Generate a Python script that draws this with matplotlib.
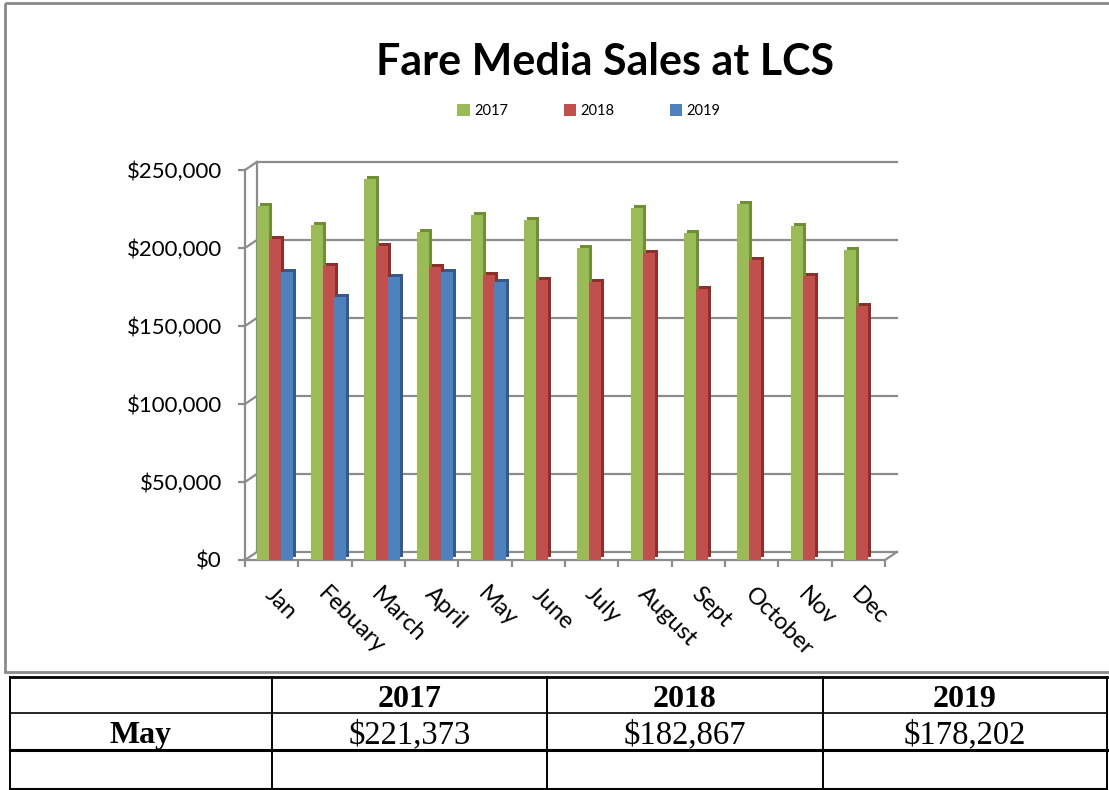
import matplotlib.pyplot as plt
import numpy as np
from matplotlib.transforms import ScaledTranslation
from matplotlib.patches import Rectangle

plt.rcParams['font.family'] = ['Lato', 'DejaVu Sans']

# data
months = ['Jan', 'Febuary', 'March', 'April', 'May', 'June', 'July',
          'August', 'Sept', 'October', 'Nov', 'Dec']
sales_2017 = [227000, 214700, 244300, 210000, 221373, 217700, 200200,
              225900, 209400, 228100, 213900, 198500]
sales_2018 = [205800, 188300, 201100, 188100, 182867, 179800, 178200,
              196900, 174000, 192500, 181900, 162700]
sales_2019 = [184700, 168500, 181300, 184900, 178202, np.nan, np.nan,
              np.nan, np.nan, np.nan, np.nan, np.nan]
years = ['2017', '2018', '2019']
table_row_label = 'May'
table_row_values = ['$221,373', '$182,867', '$178,202']

W, H = 1109, 790
fig = plt.figure(figsize=(W / 100, H / 100), dpi=100)

# page layer in pixel coords: chart frame + table
page = fig.add_axes([0, 0, 1, 1], zorder=0)
page.set_xlim(0, W)
page.set_ylim(H, 0)
page.axis('off')
page.add_patch(Rectangle((5, 3), W + 20, 669, fill=False, ec='#8a8a8a', lw=2))

col_edges = [10, 272, 547, 823, 1107]
row_edges = [677, 713, 750, 789]
row_lw = [2, 1.2, 2.2, 1.5]
for y, lw in zip(row_edges, row_lw):
    page.plot([col_edges[0], col_edges[-1]], [y, y], color='black', lw=lw)
for xe in col_edges:
    page.plot([xe, xe], [row_edges[0], row_edges[-1]], color='black', lw=1.4)

serif = 'Liberation Serif'
for j, yr in enumerate(years):
    cx = (col_edges[j + 1] + col_edges[j + 2]) / 2
    page.text(cx, 707, yr, ha='center', va='baseline', fontsize=23,
              fontweight='bold', family=serif)
    page.text(cx, 743, table_row_values[j], ha='center', va='baseline',
              fontsize=23.5, family=serif)
page.text((col_edges[0] + col_edges[1]) / 2, 743, table_row_label, ha='center',
          va='baseline', fontsize=23, fontweight='bold', family=serif)

# chart
ax = fig.add_axes([245 / W, (H - 560) / H, 640 / W, 390 / H], zorder=1)
ax.set_facecolor('none')

grid = '#8c8c8c'
x = np.arange(len(months))
w = 0.225
offsets = [-0.157, 0.068, 0.29]
fronts = ['#9bbb59', '#c0504d', '#4f81bd']
sides = ['#6f8f32', '#8e2f2c', '#345b8c']
shift = ScaledTranslation(3 / 100, 3 / 100, fig.dpi_scale_trans)

for i, vals in enumerate([sales_2017, sales_2018, sales_2019]):
    shadow = ax.bar(x + offsets[i], vals, w, color=sides[i], zorder=3 + 2 * i)
    for p in shadow:
        p.set_transform(ax.transData + shift)
    ax.bar(x + offsets[i], vals, w, color=fronts[i], zorder=4 + 2 * i, label=years[i])

# back wall / floor to fake the 3-D box
DX, DY = 0.225, 5200
yticks = np.arange(0, 250001, 50000)
for v in yticks:
    ax.plot([-0.5 + DX, 11.5 + DX], [v + DY, v + DY], color=grid, lw=1.6,
            zorder=1, clip_on=False)
    ax.plot([-0.5, -0.5 + DX], [v, v + DY], color=grid, lw=1.6, zorder=1,
            clip_on=False)
ax.plot([-0.5 + DX, -0.5 + DX], [DY, 250000 + DY], color=grid, lw=1.6,
        zorder=1, clip_on=False)
ax.plot([11.5, 11.5 + DX], [0, DY], color=grid, lw=1.6, zorder=1, clip_on=False)

ax.set_xlim(-0.5, 11.5)
ax.set_ylim(0, 250000)
for s in ['top', 'right']:
    ax.spines[s].set_visible(False)
for s in ['left', 'bottom']:
    ax.spines[s].set_color(grid)
    ax.spines[s].set_linewidth(1.6)

ax.set_yticks(yticks)
ax.set_yticklabels(['${:,.0f}'.format(v) for v in yticks])
ax.tick_params(axis='y', length=5, width=1.6, color=grid, pad=11.5,
               labelsize=16, labelcolor='black')

ax.set_xticks(x)
ax.set_xticks(np.arange(-0.5, 12, 1), minor=True)
ax.tick_params(axis='x', which='major', length=0, pad=17)
ax.tick_params(axis='x', which='minor', length=5, width=1.6, color=grid)
ax.set_xticklabels(months, rotation=-45, ha='left', va='top',
                   rotation_mode='anchor', fontsize=17)
lab_shift = ScaledTranslation(4 / 100, 0, fig.dpi_scale_trans)
for lab in ax.get_xticklabels():
    lab.set_transform(lab.get_transform() + lab_shift)

fig.text(605 / W, (H - 62) / H, 'Fare Media Sales at LCS', ha='center',
         va='center', fontsize=31, fontweight='bold')

fig.legend(loc='center', bbox_to_anchor=(589 / W, (H - 111) / H), ncol=3,
           frameon=False, fontsize=10.5, handlelength=0.85, handleheight=0.85,
           handletextpad=0.3, columnspacing=3.8)

fig.savefig('out.png', dpi=100)
